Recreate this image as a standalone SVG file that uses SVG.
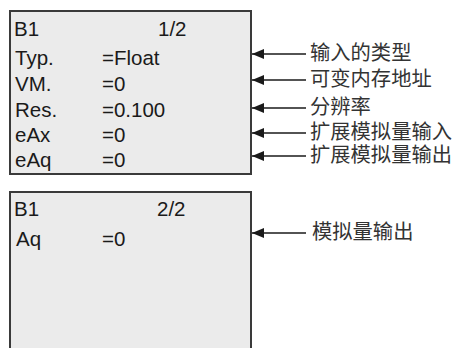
<svg xmlns="http://www.w3.org/2000/svg" width="454" height="348" viewBox="0 0 454 348">
<style>
.box{fill:#ebebeb;stroke:#3a3a3a;stroke-width:2}
.t{font-family:"Liberation Sans",Arial,sans-serif;font-size:20.5px;fill:#1a1a1a}
.c{font-family:"Noto Sans CJK SC","Liberation Sans",sans-serif;font-size:20.3px;fill:#333333}
.ln{stroke:#1a1a1a;stroke-width:1.5;fill:none}
</style>
<defs>
<marker id="ah" markerWidth="12" markerHeight="10" refX="12" refY="5" orient="auto" markerUnits="userSpaceOnUse">
<path d="M0,0 L12,5 L0,10 Z" fill="#1a1a1a"/>
</marker>
</defs>
<rect width="454" height="348" fill="#ffffff"/>
<g id="page1">
<rect class="box" x="10" y="11" width="241" height="163"/>
<text class="t" x="14" y="36">B1</text>
<text class="t" x="158" y="36">1/2</text>
<text class="t" x="15" y="65">Typ.</text><text class="t" x="102" y="65">=Float</text>
<text class="t" x="15" y="91">VM.</text><text class="t" x="102" y="91">=0</text>
<text class="t" x="15" y="117">Res.</text><text class="t" x="102" y="117">=0.100</text>
<text class="t" x="15" y="142">eAx</text><text class="t" x="102" y="142">=0</text>
<text class="t" x="15" y="167">eAq</text><text class="t" x="102" y="167">=0</text>
</g>
<g id="page2">
<path class="box" d="M10,349 V192 H251 V349"/>
<text class="t" x="14" y="216">B1</text>
<text class="t" x="157" y="216">2/2</text>
<text class="t" x="16" y="246">Aq</text><text class="t" x="102" y="246">=0</text>
</g>
<g id="connectors">
<line class="ln" x1="306" y1="54" x2="252" y2="54" marker-end="url(#ah)"/>
<line class="ln" x1="306" y1="80" x2="252" y2="80" marker-end="url(#ah)"/>
<line class="ln" x1="306" y1="108" x2="252" y2="108" marker-end="url(#ah)"/>
<line class="ln" x1="306" y1="133" x2="252" y2="133" marker-end="url(#ah)"/>
<line class="ln" x1="306" y1="156" x2="252" y2="156" marker-end="url(#ah)"/>
<line class="ln" x1="306" y1="233" x2="252" y2="233" marker-end="url(#ah)"/>
</g>
<g id="labels">
<text class="c" x="310" y="60">输入的类型</text>
<text class="c" x="310" y="86">可变内存地址</text>
<text class="c" x="310" y="114">分辨率</text>
<text class="c" x="310" y="139">扩展模拟量输入</text>
<text class="c" x="310" y="162">扩展模拟量输出</text>
<text class="c" x="312" y="239">模拟量输出</text>
</g>
</svg>
